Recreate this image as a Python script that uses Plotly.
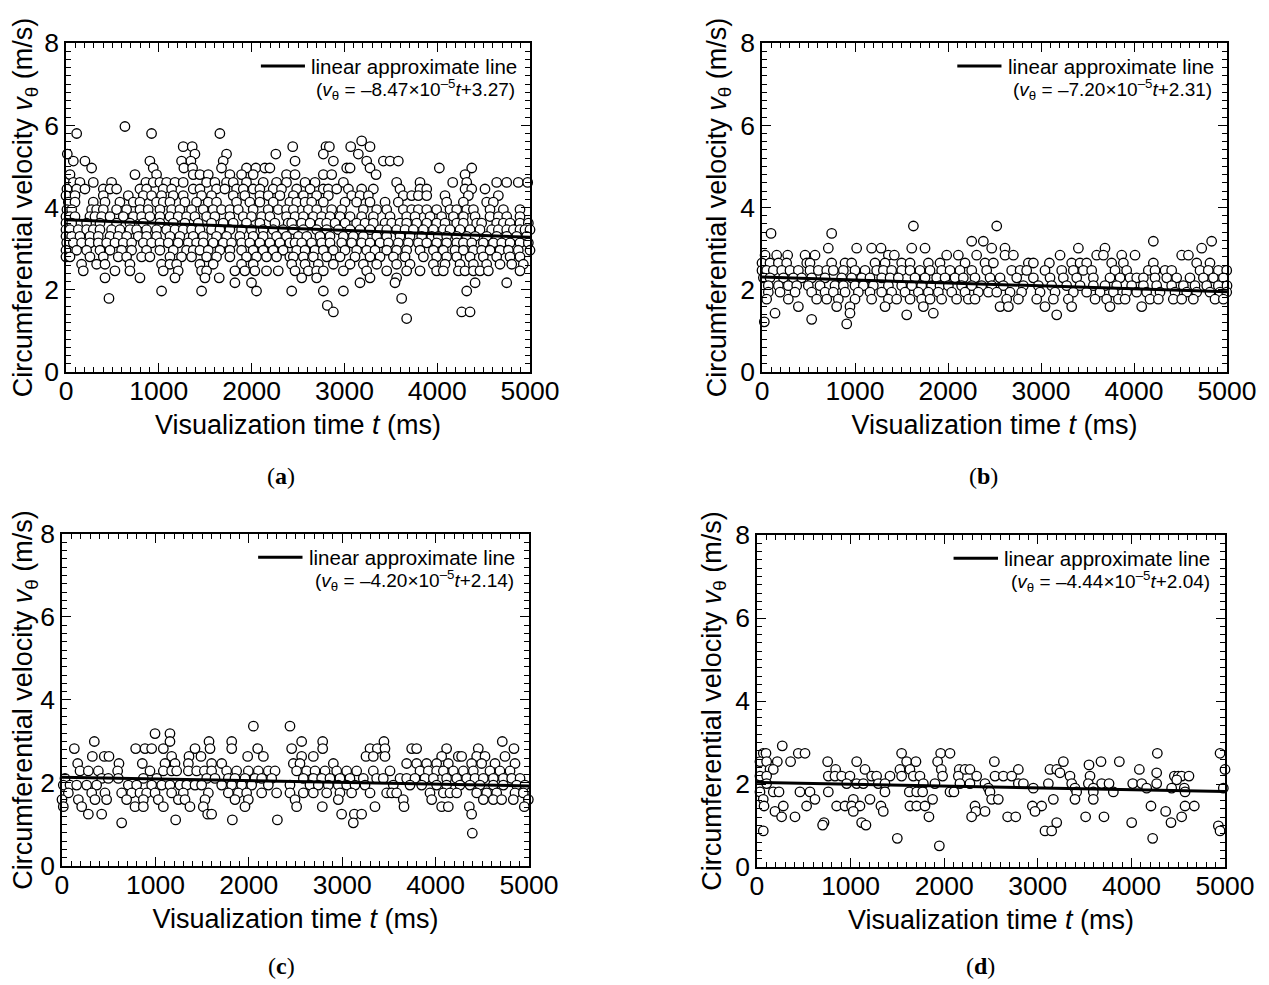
import plotly.graph_objects as go

# ---------------- data (t in ms, v in m/s) ----------------
a_levels = [5.97, 5.80, 5.62, 5.48, 5.30, 5.13, 4.96, 4.80, 4.61, 4.45, 4.29, 4.13, 3.95, 3.78, 3.62, 3.46,
            3.30, 3.14, 2.96, 2.80, 2.62, 2.46, 2.29, 2.17, 1.97, 1.79, 1.62, 1.46, 1.30]
a_times = [
    [635],
    [115, 922, 1658],
    [3186],
    [1263, 1360, 2443, 2802, 2838, 3068, 3276],
    [14, 1389, 1730, 2261, 2773, 3150],
    [79, 204, 904, 1245, 1346, 1694, 2468, 2881, 3240, 3420, 3492, 3581],
    [276, 940, 1270, 1364, 1676, 1945, 2046, 2143, 2197, 3025, 3061, 3276, 4023, 4372],
    [43, 743, 976, 1371, 1443, 1533, 1766, 1892, 2017, 2376, 2468, 2773, 2863, 3341, 4300],
    [79, 150, 294, 491, 861, 940, 1012, 1084, 1174, 1263, 1515, 1604, 1730, 1802, 1945, 2125, 2269, 2376,
     2576, 2683, 2989, 3563, 3815, 4167, 4318, 4641, 4749, 4874, 4975],
    [10, 115, 204, 402, 474, 545, 797, 868, 1048, 1138, 1371, 1443, 1622, 1712, 1838, 1910, 2017, 2089, 2233,
     2322, 2486, 2630, 2773, 2827, 2917, 3043, 3186, 3312, 3599, 3815, 3887, 4300, 4372, 4515],
    [0, 97, 402, 671, 833, 922, 1030, 1156, 1263, 1461, 1568, 1802, 1927, 2089, 2179, 2305, 2450, 2558, 2701,
     2827, 3079, 3168, 3258, 3635, 3725, 3797, 3887, 4084, 4336, 4659],
    [25, 97, 294, 420, 581, 725, 797, 976, 1048, 1120, 1281, 1407, 1533, 1622, 1838, 1981, 2089, 2233, 2412,
     2486, 2576, 2647, 2773, 3007, 3132, 3276, 3438, 3581, 4102, 4282, 4533, 4605],
    [10, 61, 276, 330, 402, 545, 653, 797, 886, 1012, 1138, 1227, 1353, 1479, 1586, 1676, 1766, 1856, 2017,
     2179, 2287, 2376, 2450, 2612, 2701, 2863, 2971, 3204, 3348, 3456, 3635, 3725, 3797, 3887, 3994, 4138,
     4210, 4318, 4390, 4569, 4713, 4892],
    [0, 43, 97, 258, 312, 384, 474, 617, 725, 815, 904, 1012, 1120, 1209, 1299, 1389, 1515, 1604, 1766, 1910,
     1999, 2107, 2197, 2376, 2468, 2558, 2665, 2755, 2845, 2953, 3061, 3186, 3312, 3492, 3671, 3761, 3923,
     4048, 4174, 4282, 4408, 4569, 4659, 4749, 4892],
    [0, 61, 222, 366, 545, 689, 833, 1012, 1156, 1281, 1425, 1568, 1694, 1802, 1945, 2089, 2251, 2394, 2432,
     2540, 2630, 2737, 2809, 2899, 3007, 3132, 3222, 3312, 3438, 3510, 3599, 3671, 3779, 3887, 3994, 4084,
     4210, 4282, 4425, 4479, 4641, 4713, 4785, 4892, 4982],
    [0, 43, 132, 222, 294, 366, 491, 581, 689, 761, 868, 976, 1084, 1174, 1263, 1353, 1443, 1568, 1658, 1766,
     1892, 1999, 2125, 2233, 2340, 2450, 2558, 2701, 2809, 2935, 3061, 3168, 3276, 3384, 3456, 3563, 3653,
     3743, 3851, 3959, 4066, 4138, 4246, 4354, 4461, 4587, 4659, 4749, 4821, 4892, 4946, 5000],
    [0, 61, 150, 258, 348, 474, 563, 653, 779, 868, 976, 1120, 1227, 1371, 1479, 1622, 1730, 1874, 2017, 2125,
     2269, 2376, 2504, 2594, 2737, 2845, 2989, 3096, 3204, 3348, 3456, 3599, 3707, 3833, 3941, 4012, 4102,
     4210, 4318, 4408, 4533, 4641, 4749, 4856, 4964],
    [7, 79, 168, 258, 348, 438, 527, 617, 707, 833, 922, 1012, 1102, 1209, 1317, 1407, 1479, 1586, 1694, 1784,
     1892, 1981, 2089, 2197, 2305, 2412, 2468, 2540, 2647, 2755, 2845, 2971, 3079, 3186, 3276, 3384, 3474,
     3581, 3689, 3797, 3887, 3994, 4102, 4210, 4282, 4372, 4497, 4605, 4695, 4785, 4892, 4982],
    [0, 115, 222, 366, 474, 599, 707, 868, 1012, 1156, 1299, 1371, 1443, 1533, 1658, 1766, 1892, 2017, 2125,
     2233, 2340, 2486, 2576, 2683, 2773, 2881, 3007, 3132, 3240, 3330, 3456, 3563, 3671, 3815, 3959, 4066,
     4192, 4282, 4390, 4479, 4569, 4677, 4767, 4874, 5000],
    [0, 43, 258, 402, 563, 653, 815, 904, 1120, 1245, 1353, 1515, 1622, 1766, 1945, 2053, 2161, 2269, 2412,
     2450, 2558, 2665, 2809, 2953, 3114, 3276, 3384, 3528, 3653, 3851, 3994, 4102, 4210, 4354, 4497, 4641,
     4785, 4892],
    [168, 330, 420, 689, 1030, 1120, 1192, 1443, 1586, 1892, 2017, 2432, 2576, 2719, 2881, 3061, 3204, 3348,
     3563, 3707, 3959, 4084, 4246, 4390, 4533, 4677, 4803, 4928],
    [186, 527, 689, 1048, 1209, 1461, 1515, 1820, 1927, 2035, 2161, 2287, 2468, 2612, 2701, 2773, 2989, 3240,
     3456, 3671, 3815, 3994, 4066, 4228, 4300, 4390, 4461, 4551, 4892],
    [420, 797, 1174, 1497, 1651, 2540, 2701, 3276, 3563],
    [1820, 1999, 3168, 3545, 4408, 4749],
    [1030, 1461, 2053, 2432, 2773, 2989, 4318],
    [463, 3617],
    [2816],
    [2881, 4264, 4354],
    [3671],
]

b_levels = [3.55, 3.37, 3.18, 3.01, 2.84, 2.65, 2.47, 2.29, 2.10, 1.94, 1.77, 1.59, 1.43, 1.39, 1.28, 1.22, 1.17]
b_times = [
    [1628, 2524],
    [97, 749],
    [2255, 2380, 4208, 4835],
    [713, 1018, 1179, 1280, 1610, 1753, 2470, 2613, 3402, 3688, 4728],
    [33, 158, 276, 463, 570, 1359, 1423, 1986, 2111, 2308, 2613, 2703, 3205, 3599, 3671, 3868, 4011, 4513, 4585],
    [0, 86, 176, 265, 481, 516, 749, 893, 964, 1215, 1323, 1502, 1592, 1789, 1914, 2183, 2398, 2488, 2864,
     2918, 3090, 3330, 3420, 3491, 3760, 3886, 4208, 4674, 4817],
    [0, 50, 122, 212, 301, 391, 516, 606, 696, 767, 875, 1000, 1108, 1233, 1305, 1394, 1502, 1592, 1699, 1807,
     1932, 2022, 2129, 2255, 2416, 2685, 2775, 2846, 3043, 3223, 3348, 3455, 3545, 3796, 3921, 4154, 4226,
     4334, 4405, 4710, 4799, 4907, 4997],
    [15, 86, 230, 337, 427, 534, 678, 857, 964, 1072, 1161, 1287, 1377, 1466, 1645, 1753, 1878, 1968, 2075,
     2165, 2290, 2452, 2560, 2739, 2918, 3097, 3240, 3384, 3563, 3742, 3850, 3957, 4029, 4101, 4226, 4352,
     4459, 4602, 4746, 4853, 4961],
    [68, 176, 283, 373, 498, 624, 785, 875, 1000, 1090, 1197, 1359, 1502, 1610, 1717, 1824, 1914, 2004, 2147,
     2255, 2362, 2470, 2595, 2810, 2972, 3115, 3276, 3420, 3563, 3688, 3814, 3975, 4101, 4244, 4405, 4531,
     4656, 4782, 4907, 5000],
    [68, 194, 355, 534, 678, 767, 893, 1036, 1161, 1287, 1394, 1538, 1681, 1789, 1896, 2040, 2183, 2326, 2434,
     2524, 2667, 2792, 2990, 3151, 3348, 3491, 3635, 3778, 3921, 4029, 4136, 4280, 4441, 4567, 4674, 4817,
     4925, 4997],
    [50, 283, 588, 696, 821, 1000, 1179, 1359, 1448, 1592, 1717, 1807, 1932, 2093, 2219, 2290, 2631, 2757,
     2954, 3133, 3294, 3581, 3706, 3832, 3904, 4172, 4262, 4423, 4513, 4638, 4871, 4961],
    [391, 803, 946, 1323, 1735, 2560, 2649, 3043, 3330, 3742, 4083],
    [140, 946, 1842],
    [1556, 3169],
    [534],
    [25],
    [911],
]

c_levels = [3.37, 3.19, 3.00, 2.83, 2.64, 2.47, 2.29, 2.11, 1.95, 1.76, 1.60, 1.43, 1.25, 1.11, 1.04, 0.79]
c_times = [
    [2049, 2441],
    [996, 1156],
    [346, 1156, 1574, 1817, 2566, 2791, 3447, 4714],
    [132, 789, 889, 960, 1085, 1424, 1585, 1817, 2095, 2459, 2791, 3298, 3376, 3458, 3744, 3797, 4118, 4457, 4839],
    [325, 453, 503, 1174, 1360, 1488, 1988, 2156, 2566, 2691, 3255, 3333, 3458, 4065, 4243, 4279, 4440, 4529, 4743],
    [168, 610, 860, 1103, 1210, 1353, 1602, 1710, 2477, 2548, 2905, 3690, 3797, 3904, 4011, 4136, 4386, 4493,
     4636, 4850],
    [193, 282, 389, 596, 942, 1085, 1174, 1228, 1353, 1442, 1524, 1602, 1763, 1870, 1995, 2102, 2209, 2281,
     2512, 2619, 2709, 2816, 2941, 3048, 3155, 3333, 3512, 3833, 3922, 4011, 4083, 4190, 4297, 4404, 4582,
     4689, 4797],
    [32, 425, 496, 603, 871, 1014, 1549, 1638, 1781, 1852, 1959, 2066, 2138, 2245, 2584, 2691, 2780, 2869,
     2976, 3083, 3226, 3369, 3440, 3619, 3690, 3779, 3886, 3976, 4118, 4226, 4333, 4422, 4511, 4618, 4725,
     4814, 4904],
    [14, 86, 157, 264, 371, 710, 799, 960, 1067, 1156, 1263, 1335, 1424, 1495, 1710, 1817, 1924, 2031, 2209,
     2441, 2655, 2744, 2851, 2958, 3048, 3137, 3244, 3547, 3726, 3851, 4011, 4118, 4261, 4368, 4475, 4618,
     4725, 4868, 4957],
    [68, 318, 460, 639, 746, 835, 906, 996, 1174, 1299, 1567, 1781, 1888, 1977, 2138, 2298, 2441, 2584, 2691,
     2834, 2976, 3101, 3298, 3476, 3530, 3583, 3940, 4083, 4154, 4226, 4440, 4547, 4654, 4850, 4939],
    [0, 175, 353, 478, 692, 871, 1031, 1246, 1317, 1531, 1852, 1995, 2495, 2958, 3654, 3958, 4511, 4618,
     4707, 4832, 4993],
    [14, 211, 782, 871, 1085, 1370, 1513, 1959, 2512, 2787, 3351, 3662, 4065, 4136, 4361, 4950],
    [282, 425, 1560, 1602, 2994, 3130, 3208, 4386],
    [1217, 1824, 2306],
    [639, 3119],
    [4393],
]

d_levels = [2.92, 2.74, 2.54, 2.46, 2.35, 2.27, 2.19, 2.10, 2.01, 1.90, 1.81, 1.63, 1.47, 1.34, 1.21, 1.07,
            1.01, 0.99, 0.87, 0.69, 0.51]
d_times = [
    [270],
    [67, 96, 441, 513, 1545, 1962, 2062, 4277, 4947],
    [32, 103, 217, 359, 755, 1065, 1599, 1698, 1930, 2536, 3273, 3675, 3871],
    [3547],
    [139, 174, 840, 1154, 1527, 1634, 1969, 2161, 2222, 2275, 2792, 3130, 3202, 4085, 5000],
    [3237, 4270],
    [32, 103, 762, 833, 904, 993, 1225, 1278, 1421, 1545, 1670, 1741, 1983, 2151, 2347, 2543, 2632, 2721,
     3344, 3558, 4459, 4501, 4537, 4615],
    [4484],
    [103, 958, 1065, 1136, 1296, 1367, 1777, 1901, 2168, 2275, 2436, 2792, 2846, 3113, 3362, 3540, 3682,
     3761, 4014, 4110, 4270],
    [2472, 2952, 3397, 3593, 4163, 4430, 4565, 4982],
    [32, 174, 235, 459, 566, 762, 1367, 1627, 1706, 1770, 2062, 2104, 2489, 3415, 3593, 3807, 4573],
    [67, 619, 1029, 1207, 1876, 2507, 2578, 3166, 3397, 3593],
    [75, 281, 530, 851, 940, 1011, 1100, 1324, 1634, 1706, 1795, 2329, 2942, 3041, 4209, 4573, 4672],
    [192, 1029, 1349, 2339, 2436, 2970, 4366],
    [263, 406, 1837, 2293, 2678, 2764, 3511, 3707, 4537],
    [716, 1118, 3202, 4003, 4423],
    [701, 1164],
    [4929],
    [67, 3077, 3148, 4947],
    [1499, 4227],
    [1948],
]

# linear approximate lines (slope per ms, intercept as drawn)
fit_slopes = [-8.47e-5, -7.20e-5, -4.20e-5, -4.44e-5]
fit_intercepts = [3.70, 2.31, 2.14, 2.04]
fit_labels = ["3.27", "2.31", "2.14", "2.04"]
fit_slope_labels = ["8.47", "7.20", "4.20", "4.44"]
t_range = [0, 5000]
panel_names = ["a", "b", "c", "d"]

x_ticks = [0, 1000, 2000, 3000, 4000, 5000]
y_ticks = [0, 2, 4, 6, 8]


def expand(levels, times):
    tt, vv = [], []
    for lv, ts in zip(levels, times):
        tt += ts
        vv += [lv] * len(ts)
    return tt, vv


panels = [expand(a_levels, a_times), expand(b_levels, b_times),
          expand(c_levels, c_times), expand(d_levels, d_times)]

FONT = "Liberation Sans, Arial, sans-serif"
# figure is 8 px smaller than the window: the page body adds an 8 px margin
x_domains = [[0.04600, 0.41396], [0.59794, 0.96669], [0.04282, 0.41316], [0.59397, 0.96511]]
y_domains = [[0.62743, 0.96418], [0.62743, 0.96418], [0.12180, 0.46162], [0.12078, 0.46059]]
label_pos = [(0.2165, 0.5210), (0.7732, 0.5210), (0.2165, 0.0195), (0.7716, 0.0195)]

fig = go.Figure()
layout = dict(
    width=1261, height=977,
    margin=dict(l=0, r=0, t=0, b=0),
    paper_bgcolor="white", plot_bgcolor="white",
    showlegend=False,
    font=dict(family=FONT, color="black"),
    annotations=[], shapes=[],
)

for i in range(4):
    n = "" if i == 0 else str(i + 1)
    xa, ya = "x" + n, "y" + n
    t, v = panels[i]
    fig.add_trace(go.Scatter(
        x=t, y=v, mode="markers", xaxis=xa, yaxis=ya, cliponaxis=False,
        marker=dict(symbol="circle", size=9.5, color="white", line=dict(color="black", width=1.3)),
    ))
    fig.add_trace(go.Scatter(
        x=t_range, y=[fit_intercepts[i] + fit_slopes[i] * tr for tr in t_range],
        mode="lines", xaxis=xa, yaxis=ya, line=dict(color="black", width=3),
    ))
    common = dict(showline=True, linecolor="black", linewidth=1.5, mirror="allticks",
                  ticks="inside", ticklen=9, tickwidth=1.2, tickcolor="black",
                  showgrid=False, zeroline=False, automargin=False,
                  tickfont=dict(family=FONT, size=26.5, color="black"))
    layout["xaxis" + n] = dict(
        common, domain=x_domains[i], anchor=ya, range=t_range, tickvals=x_ticks,
        ticklabelstandoff=-6,
        minor=dict(dtick=100, ticks="inside", ticklen=5, tickwidth=1, tickcolor="black", showgrid=False),
        title=dict(text="Visualization time <i>t</i> (ms)", font=dict(family=FONT, size=27), standoff=11),
    )
    layout["yaxis" + n] = dict(
        common, domain=y_domains[i], anchor=xa, range=[0, 8], tickvals=y_ticks,
        minor=dict(dtick=0.2, ticks="inside", ticklen=5, tickwidth=1, tickcolor="black", showgrid=False),
        title=dict(text="Circumferential velocity <i>v</i><sub>θ</sub> (m/s)",
                   font=dict(family=FONT, size=27), standoff=6),
    )
    # legend-like labels inside plot
    layout["shapes"].append(dict(type="line", xref=xa + " domain", yref=ya + " domain",
                                 x0=0.42, x1=0.515, y0=0.93, y1=0.93,
                                 line=dict(color="black", width=3)))
    layout["annotations"].append(dict(xref=xa + " domain", yref=ya + " domain", x=0.524, y=0.93,
                                      xanchor="left", yanchor="middle", showarrow=False,
                                      text="linear approximate line",
                                      font=dict(family=FONT, size=20.5, color="black")))
    layout["annotations"].append(dict(
        xref=xa + " domain", yref=ya + " domain", x=0.972, y=0.86,
        xanchor="right", yanchor="middle", showarrow=False,
        text="(<i>v</i><sub>θ</sub> = –" + fit_slope_labels[i] + "×10<sup>–5</sup><i>t</i>+" + fit_labels[i] + ")",
        font=dict(family=FONT, size=19, color="black")))
    layout["annotations"].append(dict(
        xref="paper", yref="paper", x=label_pos[i][0], y=label_pos[i][1],
        xanchor="center", yanchor="middle", showarrow=False,
        text="(<b>" + panel_names[i] + "</b>)",
        font=dict(family="Liberation Serif, Times New Roman, serif", size=24, color="black")))

fig.update_layout(**layout)
fig.write_html("out.html")
